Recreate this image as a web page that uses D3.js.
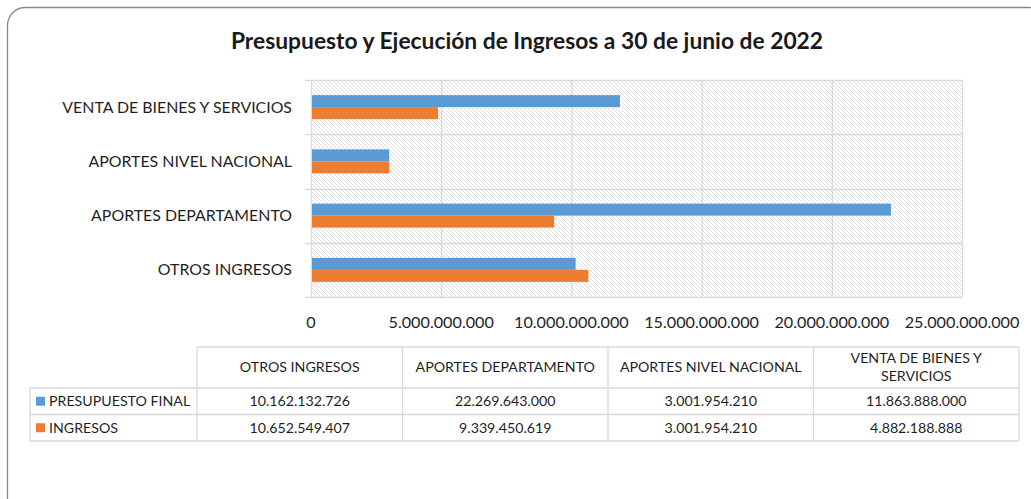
<!DOCTYPE html>
<html>
<head>
<meta charset="utf-8">
<script src="https://cdn.jsdelivr.net/npm/d3@7"></script>
<style>
  html, body { margin: 0; padding: 0; background: #fff; }
  svg { display: block; font-family: Lato, "Noto Sans", sans-serif; }
</style>
</head>
<body>
<svg id="chart" width="1031" height="499"></svg>
<script>
// data
const categories = ['OTROS INGRESOS', 'APORTES DEPARTAMENTO', 'APORTES NIVEL NACIONAL', 'VENTA DE BIENES Y SERVICIOS']
const presupuesto = [10162132726, 22269643000, 3001954210, 11863888000]
const ingresos = [10652549407, 9339450619, 3001954210, 4882188888]
const seriesNames = ['PRESUPUESTO FINAL', 'INGRESOS']
const seriesColors = ['#5B9BD5', '#ED7D31']
const xTicks = [0, 5e9, 10e9, 15e9, 20e9, 25e9]
const headerLines = [['OTROS INGRESOS'], ['APORTES DEPARTAMENTO'], ['APORTES NIVEL NACIONAL'], ['VENTA DE BIENES Y', 'SERVICIOS']]

const series = [presupuesto, ingresos]
const fmt = d3.formatLocale({ decimal: ',', thousands: '.', grouping: [3], currency: ['$', ''] }).format(',.0f')

const svg = d3.select('#chart')
const grid = '#d9d9d9'

svg.append('rect').attr('width', 1031).attr('height', 499).attr('fill', '#fff')
svg.append('rect')
  .attr('x', 7.5).attr('y', 7.5).attr('width', 1040).attr('height', 510)
  .attr('rx', 18).attr('fill', 'none').attr('stroke', '#8a8a8a').attr('stroke-width', 1.3)

svg.append('text')
  .attr('x', 527).attr('y', 49)
  .attr('text-anchor', 'middle')
  .attr('font-weight', 700).attr('font-size', 22.8).attr('fill', '#1a1a1a')
  .text('Presupuesto y Ejecución de Ingresos a 30 de junio de 2022')

// hatch pattern for the plot area
const defs = svg.append('defs')
defs.append('pattern')
  .attr('id', 'hatch').attr('patternUnits', 'userSpaceOnUse')
  .attr('width', 4).attr('height', 4)
  .call(p => p.append('path')
    .attr('d', 'M-1,-1 L5,5 M-1,3 L1,5 M3,-1 L5,1')
    .attr('stroke', '#dadada').attr('stroke-width', 0.9))

const x = d3.scaleLinear().domain([0, 25e9]).range([311, 962])
const y = d3.scaleBand().domain(categories.slice().reverse()).range([80, 297])
const barH = 12

svg.append('rect')
  .attr('x', x(0)).attr('y', 80).attr('width', x(25e9) - x(0)).attr('height', 217)
  .attr('fill', 'url(#hatch)')

// vertical gridlines
svg.append('g').selectAll('line').data(xTicks).join('line')
  .attr('x1', d => x(d) + 0.5).attr('x2', d => x(d) + 0.5)
  .attr('y1', 80).attr('y2', 297)
  .attr('stroke', grid).attr('stroke-width', 1.3)

// category boundaries with small ticks to the left
const bounds = [80, ...categories.map(c => y(c) + y.bandwidth())]
svg.append('g').selectAll('line').data(bounds).join('line')
  .attr('x1', 305).attr('x2', x(25e9) + 1)
  .attr('y1', d => Math.round(d) + 0.5).attr('y2', d => Math.round(d) + 0.5)
  .attr('stroke', grid).attr('stroke-width', 1.3)

// bars
series.forEach((vals, s) => {
  svg.append('g').selectAll('rect').data(categories).join('rect')
    .attr('x', x(0) + 1)
    .attr('y', (c) => y(c) + y.bandwidth() / 2 - barH + s * barH)
    .attr('width', (c, i) => x(vals[i]) - x(0) - 1)
    .attr('height', barH)
    .attr('fill', seriesColors[s])
})

// category labels
svg.append('g').selectAll('text').data(categories).join('text')
  .attr('x', 292).attr('y', c => y(c) + y.bandwidth() / 2)
  .attr('dy', '0.35em').attr('text-anchor', 'end')
  .attr('font-size', 15.9).attr('fill', '#1f1f1f')
  .text(d => d)

// value axis labels
svg.append('g').selectAll('text').data(xTicks).join('text')
  .attr('x', d => x(d)).attr('y', 322)
  .attr('dy', '0.35em').attr('text-anchor', 'middle')
  .attr('font-size', 16.2).attr('fill', '#1f1f1f')
  .text(d => fmt(d))

// data table
const colX = d3.range(5).map(i => 197 + i * 205.5)
const rowY = [347, 388, 414.5, 441]
const tb = svg.append('g').attr('stroke', grid).attr('stroke-width', 1.3)
tb.append('line').attr('x1', colX[0]).attr('x2', colX[4]).attr('y1', rowY[0]).attr('y2', rowY[0])
colX.forEach(cx => tb.append('line').attr('x1', cx).attr('x2', cx).attr('y1', rowY[0]).attr('y2', rowY[3]))
tb.append('line').attr('x1', 30).attr('x2', 30).attr('y1', rowY[1]).attr('y2', rowY[3])
rowY.slice(1).forEach(ry => tb.append('line').attr('x1', 30).attr('x2', colX[4]).attr('y1', ry).attr('y2', ry))

const table = svg.append('g').attr('font-size', 14.2).attr('fill', '#1f1f1f').attr('text-anchor', 'middle')
headerLines.forEach((lines, i) => {
  const cx = (colX[i] + colX[i + 1]) / 2
  const mid = (rowY[0] + rowY[1]) / 2
  table.append('g').selectAll('text').data(lines).join('text')
    .attr('x', cx)
    .attr('y', (d, j) => mid + (j - (lines.length - 1) / 2) * 18)
    .attr('dy', '0.35em')
    .text(d => d)
})
series.forEach((vals, s) => {
  const mid = (rowY[s + 1] + rowY[s + 2]) / 2
  table.append('rect')
    .attr('x', 36).attr('y', mid - 4.5).attr('width', 9).attr('height', 9)
    .attr('fill', seriesColors[s])
  table.append('text')
    .attr('x', 49).attr('y', mid).attr('dy', '0.35em').attr('text-anchor', 'start')
    .text(seriesNames[s])
  table.append('g').selectAll('text').data(vals).join('text')
    .attr('x', (d, i) => (colX[i] + colX[i + 1]) / 2)
    .attr('y', mid).attr('dy', '0.35em')
    .text(d => fmt(d))
})
</script>
</body>
</html>
